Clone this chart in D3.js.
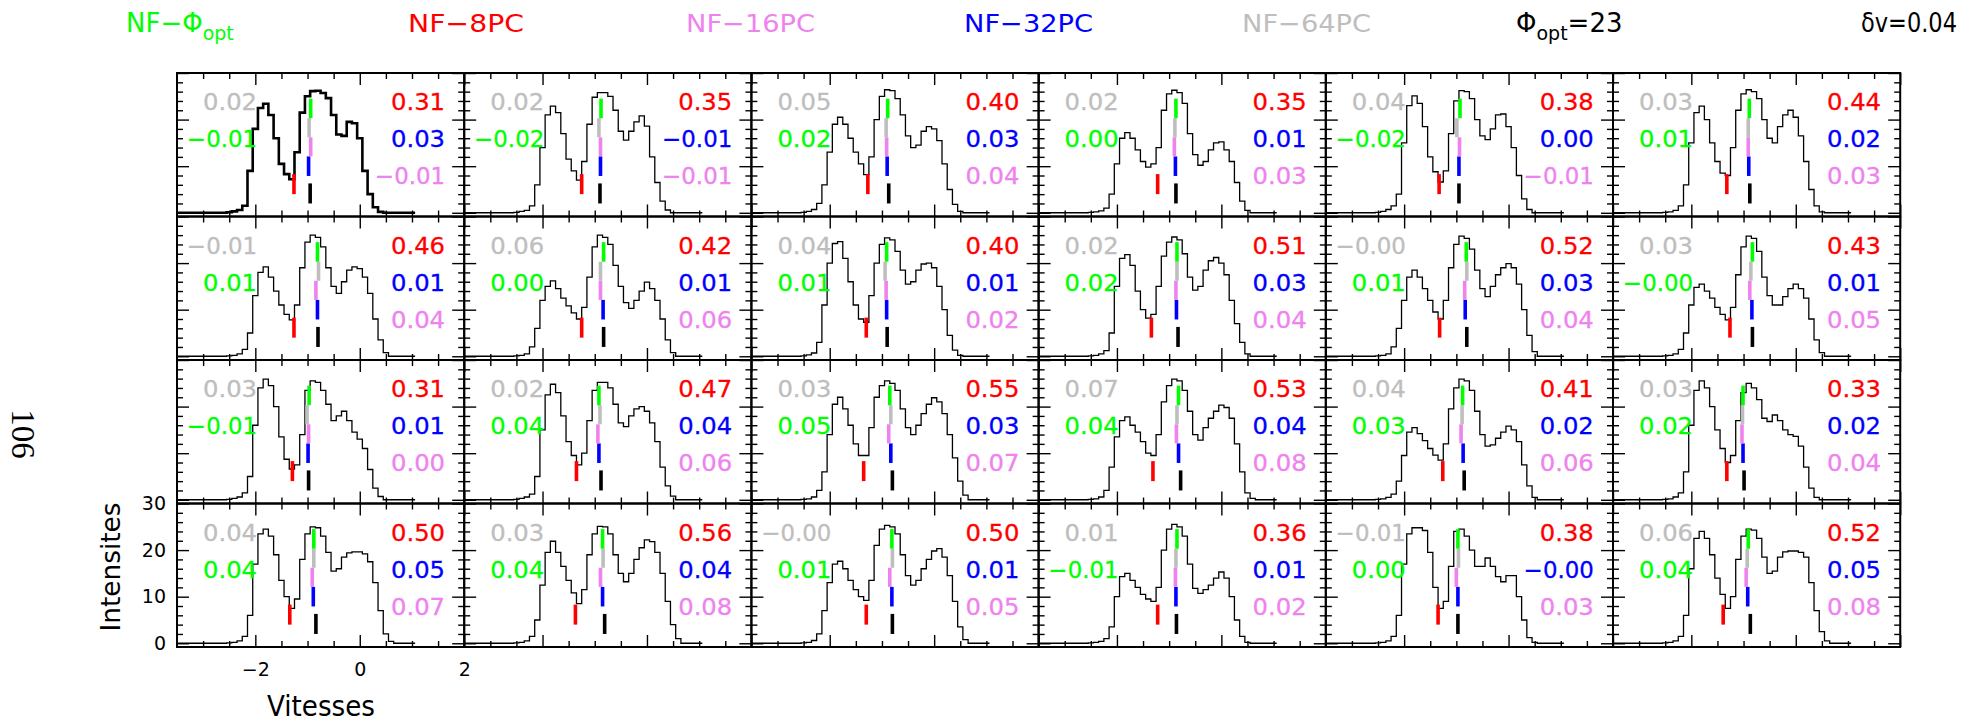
<!DOCTYPE html>
<html><head><meta charset="utf-8">
<script src="https://cdn.jsdelivr.net/npm/d3@7"></script>
<style>body{margin:0;background:#fff}svg{display:block}</style>
</head><body><svg id="c" width="1980" height="723"></svg>
<script>
// velocity bin centres (Vitesses)
const vel = [-2.6,-2.5,-2.4,-2.3,-2.2,-2.1,-2.0,-1.9,-1.8,-1.7,-1.6,-1.5,-1.4,-1.3,-1.2,-1.1,-1.0,-0.9,-0.8,-0.7,-0.6,-0.5,-0.4,-0.3,-0.2,-0.1,0.0,0.1,0.2,0.3,0.4,0.5,0.6,0.7,0.8];
// intensities per panel (row-major)
const r1c1 = [0,0.1,0.3,0.6,1.5,9,18,22.5,23.4,21,16,10.5,8.3,7.2,13,21.5,25,26.1,26.2,25.7,24.6,21,16.8,16.5,19.5,19.2,16,9,4,1.2,0.2,0,0,0,0];
const r1c2 = [0,0.1,0.3,0.5,1.5,6,14,21,22.9,21.5,17,11.5,9,7,11,19,24.8,25.8,25.8,25,22,17.5,15.6,17.5,19.5,20.8,18.6,12,6.5,2.5,0.6,0,0,0,0];
const r1c3 = [0,0.1,0.3,0.7,2,6,13,19,20.5,19,16,13,10.5,8.2,12,20,25,26.4,26.2,24.5,21,16.5,14,14.5,17.5,18.5,18,15.5,10.5,5,1.8,0.3,0,0,0];
const r1c4 = [0,0.1,0.2,0.4,1,4,10.5,16,17.2,16,13.5,11,9.8,10.5,14,22,25.5,26.3,25.8,23.5,17,12.5,10.2,11,13.5,15,15.2,13.5,11,6.5,2.5,0.5,0,0,0];
const r1c5 = [0,0.1,0.3,0.7,1.5,4,15,23,25.1,23.5,18.5,12,8.8,6.6,9,17,24,26.2,26,24.5,20,16.5,15.7,18,21,21.2,18.5,14,8,3,0.7,0,0,0,0];
const r1c6 = [0,0.1,0.2,0.5,1.5,6,15,21.5,22.9,20,15,11,8.5,8,14,22,25.5,26.4,26,24.5,20,16,15,18.5,21,22,20.5,16.5,11,5,1.5,0.2,0,0,0];
const r2c1 = [0,0.1,0.2,0.5,1.5,5,13,18,19.2,17,14,11,9,7.8,11,19,24.5,26,25.5,23.5,19,15,13.5,16,18.5,19.2,18.8,17,13.5,8,3.5,0.8,0,0,0];
const r2c2 = [0,0.1,0.2,0.5,2,6,12,15,16.2,14.5,12.5,10.8,9.3,8,10.5,17,23.5,26,25.5,24,19.5,15,11.5,10.3,12,14,15.9,14.5,12,8,3.5,0.8,0,0,0];
const r2c3 = [0,0.1,0.3,0.7,3,11,20,24.2,24.6,21,16,11,8,7.3,13,20,24,25.4,25,22.5,18.5,15.5,16,18.5,19.8,20,19,15,10,4.5,1.3,0.2,0,0,0];
const r2c4 = [0,0.1,0.2,0.5,1.2,5,15,21,21.8,19.5,14,10,8.2,9,15,21.5,24.5,25.6,25,22,17,14.2,15,18.5,20.5,21.2,20,17.5,12,7,3,0.5,0,0,0];
const r2c5 = [0,0.1,0.2,0.5,2,6,12,17,18.5,17,14.5,12,9.5,8,12,19,24,25.8,25.3,23,18.5,14.5,12.8,15,17.5,19,19.9,19,15.5,10,4.5,1,0,0,0];
const r2c6 = [0,0.1,0.2,0.5,1.5,5,11,14.8,15.5,14,12.5,10.5,9,7.8,10.5,17.5,23.5,25.8,25.3,22.5,17,13,11,11,12.8,14.5,15.5,14.5,12.5,8,3.5,0.8,0,0,0];
const r3c1 = [0,0.1,0.3,0.6,1.5,5,16,24,25.9,24.5,20,13.5,8.7,6.6,7.5,14,23.5,25.5,25.2,23.5,20.5,17,18,19,17,14.5,13,11,6.5,2.5,0.7,0,0,0,0];
const r3c2 = [0,0.1,0.3,0.6,1.2,5,15,22.5,24.8,23,18,12.5,9.5,7.5,10,17,23.5,25.2,25.2,24,20.5,16.5,15.7,18,19.5,20,19,16.5,12.5,7,3,0.8,0,0,0];
const r3c3 = [0,0.1,0.2,0.6,2,6,14,20.5,22,19.5,16,12,9.5,9.5,15.5,22,24.5,25.5,25,23.5,19.5,15.5,14,16,18.5,20.5,21.9,21,18.5,14,9,4,1,0,0];
const r3c4 = [0,0.1,0.2,0.6,2,7,13.5,17,17.8,16,14.5,12.5,10,9.5,14,21,24.5,25.9,25.5,23.5,19,14,12.8,15.5,17.5,19,20.3,19.8,17.5,12,6,1.5,0.3,0,0];
const r3c5 = [0,0.1,0.2,0.5,1.2,4,9.5,14.5,15.5,14.2,12.7,11,9.6,8.5,12,19.5,24,25.9,25.5,23.5,19,14,11.5,11.8,13.2,14.5,15.8,15,12.5,7.5,3,0.5,0,0,0];
const r3c6 = [0,0.1,0.2,0.6,1.5,6,16,23.5,25.5,24,20,15,11,8,9.5,17,23,25,24,21.5,17.5,16.8,18.2,17,15,14,13.6,11.5,7,2.5,0.5,0,0,0,0];
const r4c1 = [0,0.1,0.2,0.5,1.5,6,17,23.5,24.5,23,19,13.5,10,7.5,9.5,18,23.5,25,24.8,23,19.5,15.5,16,18.5,19.4,19.6,19.6,19.2,17.5,13,7,2,0.4,0,0];
const r4c2 = [0,0.1,0.2,0.5,1.5,5,12.5,19.5,21.9,19.5,16.5,13.5,10.8,8.5,11.5,19,23.5,25.1,25,23.5,19,15,13.2,15,18,20.5,22.2,21.8,19.5,15,9,4,1,0,0];
const r4c3 = [0,0.1,0.2,0.6,2,7,13,17,17.6,16,13.5,11.5,10,9.2,13.5,21,24.5,25.3,25,23.5,19,14.5,12.5,13.5,16,18,19.8,20.3,18.5,14.5,9,3.5,0.8,0,0];
const r4c4 = [0,0.1,0.2,0.4,1,3.5,10,14.3,15,13.5,12,10.5,9.5,9,12,20,24.5,25.5,25,23,17,11.8,10.7,11.5,12.5,14,15.3,14,10,5,1.5,0.2,0,0,0];
const r4c5 = [0,0.1,0.2,0.5,1.5,6,17,23.5,24.8,24.8,24.2,19.5,12,7.5,9,16.5,24,24.5,23,20,16.5,16.5,18.3,16.5,14.3,13.2,14.5,14.5,10,5,1.2,0.2,0,0,0];
const r4c6 = [0,0.1,0.2,0.5,1.5,6,16,22.5,24,22.5,19,14,10.5,7.5,10,18,23,24.5,24.3,22.5,18.5,15,15.5,18.5,19.6,19.8,19.8,19.5,18.5,13,7,2.5,0.5,0,0];
const spectra = [r1c1,r1c2,r1c3,r1c4,r1c5,r1c6,r2c1,r2c2,r2c3,r2c4,r2c5,r2c6,r3c1,r3c2,r3c3,r3c4,r3c5,r3c6,r4c1,r4c2,r4c3,r4c4,r4c5,r4c6];

// reference (black) marker velocity per panel
const blackPos = [-0.95,-0.90,-0.87,-0.87,-0.95,-0.88, -0.80,-0.83,-0.90,-0.83,-0.80,-0.83, -0.98,-0.88,-0.80,-0.78,-0.85,-0.99, -0.84,-0.81,-0.80,-0.86,-0.97,-0.87];
// offsets printed in each panel
const lab64  = ["0.02","0.02","0.05","0.02","0.04","0.03","−0.01","0.06","0.04","0.02","−0.00","0.03","0.03","0.02","0.03","0.07","0.04","0.03","0.04","0.03","−0.00","0.01","−0.01","0.06"];
const labPhi = ["−0.01","−0.02","0.02","0.00","−0.02","0.01","0.01","0.00","0.01","0.02","0.01","−0.00","−0.01","0.04","0.05","0.04","0.03","0.02","0.04","0.04","0.01","−0.01","0.00","0.04"];
const lab8   = ["0.31","0.35","0.40","0.35","0.38","0.44","0.46","0.42","0.40","0.51","0.52","0.43","0.31","0.47","0.55","0.53","0.41","0.33","0.50","0.56","0.50","0.36","0.38","0.52"];
const lab32  = ["0.03","−0.01","0.03","0.01","0.00","0.02","0.01","0.01","0.01","0.03","0.03","0.01","0.01","0.04","0.03","0.04","0.02","0.02","0.05","0.04","0.01","0.01","−0.00","0.05"];
const lab16  = ["−0.01","−0.01","0.04","0.03","−0.01","0.03","0.04","0.06","0.02","0.04","0.04","0.05","0.00","0.06","0.07","0.08","0.06","0.04","0.07","0.08","0.05","0.02","0.03","0.08"];

const xMajor = [-2,0,2], xMinor = [-3,-2.5,-1.5,-1,-0.5,0.5,1,1.5];
const yMajor = [0,10,20,30], yMinor = [2,4,6,8,12,14,16,18,22,24,26,28];
const xTickText = ["−2","0","2"];

const C = {green:"#00ff00", red:"#ff0000", violet:"#ee82ee", blue:"#0000ff", gray:"#bebebe"};
const FONT = "DejaVu Sans";

const svg = d3.select("#c");
const left0 = 177, top0 = 73, pw = 287.2, ph = 143.5;
const x = d3.scaleLinear().domain([-3.5, 2]).range([0, pw]);
const y = d3.scaleLinear().domain([-0.8, 30]).range([ph, 0]);
const num = s => +s.replace("−", "-");

const line = d3.line().x(d => x(d[0])).y(d => y(d[1])).curve(d3.curveStepAfter);

function tickAxis(g, axis, tr) {
  g.append("g").attr("transform", tr).call(axis).call(s => {
    s.select(".domain").remove();
    s.selectAll("text").remove();
    s.selectAll("line").attr("stroke", "#000").attr("stroke-width", 1.4);
  });
}

spectra.forEach((spec, i) => {
  const r = Math.floor(i / 6), c = i % 6;
  const g = svg.append("g").attr("transform", `translate(${left0 + c * pw},${top0 + r * ph})`);
  tickAxis(g, d3.axisTop(x).tickValues(xMajor).tickSize(12), `translate(0,${ph})`);
  tickAxis(g, d3.axisTop(x).tickValues(xMinor).tickSize(6), `translate(0,${ph})`);
  tickAxis(g, d3.axisBottom(x).tickValues(xMajor).tickSize(12), `translate(0,0)`);
  tickAxis(g, d3.axisBottom(x).tickValues(xMinor).tickSize(6), `translate(0,0)`);
  tickAxis(g, d3.axisRight(y).tickValues(yMajor).tickSize(12), `translate(0,0)`);
  tickAxis(g, d3.axisRight(y).tickValues(yMinor).tickSize(6), `translate(0,0)`);
  tickAxis(g, d3.axisLeft(y).tickValues(yMajor).tickSize(12), `translate(${pw},0)`);
  tickAxis(g, d3.axisLeft(y).tickValues(yMinor).tickSize(6), `translate(${pw},0)`);

  const pts = [[-3.5, 0]].concat(vel.map((v, j) => [v - 0.05, spec[j]]));
  pts.push([vel[vel.length - 1] + 0.05, 0], [1.06, 0]);
  g.append("path").attr("d", line(pts)).attr("fill", "none").attr("stroke", "#000")
    .attr("stroke-width", i === 0 ? 2.6 : 1.3);

  const b = blackPos[i];
  const marks = [
    {v: b - num(lab8[i]),   lo: 4.0,  hi: 8.3,  col: C.red},
    {v: b,                  lo: 2.0,  hi: 6.3,  col: "#000"},
    {v: b - num(lab32[i]),  lo: 7.9,  hi: 12.1, col: C.blue},
    {v: b - num(lab16[i]),  lo: 12.1, hi: 16.2, col: C.violet},
    {v: b - num(lab64[i]),  lo: 16.2, hi: 20.3, col: C.gray},
    {v: b - num(labPhi[i]), lo: 20.3, hi: 24.5, col: C.green}
  ];
  g.selectAll(".mk").data(marks).enter().append("line")
    .attr("x1", d => x(d.v)).attr("x2", d => x(d.v))
    .attr("y1", d => y(d.lo)).attr("y2", d => y(d.hi))
    .attr("stroke", d => d.col).attr("stroke-width", 3.6);

  g.append("rect").attr("width", pw).attr("height", ph).attr("fill", "none")
    .attr("stroke", "#000").attr("stroke-width", 2);

  const txt = (s, tx, ty, col) => g.append("text").attr("x", tx).attr("y", ty)
    .attr("text-anchor", "end").attr("font-family", FONT).attr("font-size", 22.5)
    .attr("textLength", s.startsWith("−") ? 70 : 54).attr("lengthAdjust", "spacingAndGlyphs")
    .attr("fill", col).attr("stroke", col).attr("stroke-width", 0.3).text(s);
  txt(lab64[i], 80, 37, C.gray);
  txt(labPhi[i], 80, 74, C.green);
  txt(lab8[i], 268, 37, C.red);
  txt(lab32[i], 268, 74, C.blue);
  txt(lab16[i], 268, 111, C.violet);

  if (r === 3 && c === 0) {
    g.append("g").attr("transform", `translate(0,${ph})`)
      .call(d3.axisBottom(x).tickValues(xMajor).tickSize(0).tickPadding(16).tickFormat((d, k) => xTickText[k]))
      .call(s => { s.select(".domain").remove(); s.selectAll("text").attr("font-family", FONT).attr("font-size", 19).attr("fill", "#000"); });
    g.append("g")
      .call(d3.axisLeft(y).tickValues(yMajor).tickSize(0).tickPadding(11))
      .call(s => { s.select(".domain").remove(); s.selectAll("text").attr("font-family", FONT).attr("font-size", 19).attr("fill", "#000"); });
  }
});

svg.append("text").attr("x", 321).attr("y", 716).attr("text-anchor", "middle")
  .attr("font-family", FONT).attr("font-size", 28).attr("textLength", 108).attr("lengthAdjust", "spacingAndGlyphs").text("Vitesses");
svg.append("text").attr("transform", "translate(120,567) rotate(-90)").attr("text-anchor", "middle")
  .attr("font-family", FONT).attr("font-size", 27).attr("textLength", 129).attr("lengthAdjust", "spacingAndGlyphs").text("Intensites");
svg.append("text").attr("transform", "translate(12,434) rotate(90)").attr("text-anchor", "middle")
  .attr("font-family", "Liberation Serif").attr("font-size", 33).text("106");

// header
const head = [
  {t: "NF−8PC", x: 408, col: C.red, len: 116},
  {t: "NF−16PC", x: 686, col: C.violet, len: 129},
  {t: "NF−32PC", x: 964, col: C.blue, len: 129},
  {t: "NF−64PC", x: 1242, col: C.gray, len: 129}
];
head.forEach(h => {
  svg.append("text").attr("x", h.x).attr("y", 32).attr("font-family", FONT)
    .attr("font-size", 25).attr("fill", h.col)
    .attr("textLength", h.len).attr("lengthAdjust", "spacingAndGlyphs").text(h.t);
});
const phiHead = [
  {pre: "NF−Φ", post: "", x: 126, col: C.green},
  {pre: "Φ", post: "=23", x: 1516, col: "#000"}
];
phiHead.forEach(h => {
  const t = svg.append("text").attr("x", h.x).attr("y", 32).attr("font-family", FONT)
    .attr("font-size", 26).attr("fill", h.col);
  t.append("tspan").text(h.pre);
  t.append("tspan").attr("font-size", 19).attr("dy", 8).text("opt");
  if (h.post) t.append("tspan").attr("dy", -8).text(h.post);
});
svg.append("text").attr("x", 1957).attr("y", 32).attr("text-anchor", "end").attr("font-family", FONT)
  .attr("font-size", 26).attr("textLength", 96).attr("lengthAdjust", "spacingAndGlyphs").attr("fill", "#000").text("δv=0.04");
</script></body></html>
